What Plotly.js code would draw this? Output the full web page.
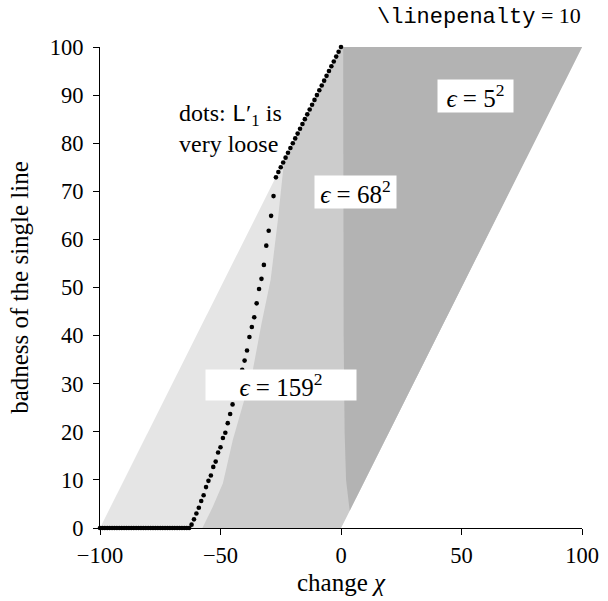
<!DOCTYPE html>
<html>
<head>
<meta charset="utf-8">
<script src="https://cdn.plot.ly/plotly-3.0.1.min.js"></script>
<style>body{margin:0;background:#fff;} #chart{width:608px;height:601px;}</style>
</head>
<body>
<div id="chart"></div>
<script>
// Outer (lightest) region: the whole feasible parallelogram
const lightX = [-100, 0, 100, 0];
const lightY = [0, 100, 100, 0];

const medX = [-57.5, -53.2, -49.0, -44.9, -40.5, -36.6, -33.1, -29.2, -26.2, -24.5, -23.6, 0, 100, 0];
const medY = [0, 4.4, 9.3, 18.3, 26.0, 32.8, 42.2, 51.6, 64.0, 72.0, 76.4, 100, 100, 0];

// Dark region (epsilon = 5^2)
const darkX = [0.9, 1.1, 1.5, 2.1, 3.6, 100];
const darkY = [100, 40, 20, 10, 3.6, 100];

// Dots: L'_1 is very loose
const dotsX = [-100,-99,-98,-97,-96,-95,-94,-93,-92,-91,-90,-89,-88,-87,-86,-85,-84,-83,-82,-81,
  -80,-79,-78,-77,-76,-75,-74,-73,-72,-71,-70,-69,-68,-67,-66,-65,-64,-63,
  -62,-61,-60,-59,-58,-57,-56,-55,-54,-53,-52,-51,-50,-49,-48,-47,-46,-45,-44,-43,-42,-41,
  -40,-39,-38,-37,-36,-35,-34,-33,-32,-31,-30,-29,-28,-27,
  -26,-25,-24,-23,-22,-21,-20,-19,-18,-17,-16,-15,-14,-13,-12,-11,-10,-9,-8,-7,-6,-5,-4,-3,-2,-1,0];
const dotsY = [0,0,0,0,0,0,0,0,0,0,0,0,0,0,0,0,0,0,0,0,
  0,0,0,0,0,0,0,0,0,0,0,0,0,0,0,0,0,0,
  0.7,1.8,3.0,4.2,5.6,6.8,8.5,9.8,10.9,12.7,13.8,15.7,16.8,18.7,19.8,21.8,23.7,25.7,27.6,29.5,31.2,32.9,
  34.8,36.9,39.7,41.8,43.8,46.7,49.7,51.8,54.7,58.7,61.8,64.9,69.0,72.9,
  74,75,76,77,78,79,80,81,82,83,84,85,86,87,88,89,90,91,92,93,94,95,96,97,98,99,100];

const xTicks = [-100, -50, 0, 50, 100];
const yTicks = [0, 10, 20, 30, 40, 50, 60, 70, 80, 90, 100];

const SERIF = 'Liberation Serif, Times New Roman, serif';
const MONO = 'Liberation Mono, DejaVu Sans Mono, monospace';

const traces = [
  {x: lightX, y: lightY, type: 'scatter', mode: 'lines', fill: 'toself', fillcolor: '#e5e5e5', line: {width: 0}, hoverinfo: 'skip'},
  {x: medX, y: medY, type: 'scatter', mode: 'lines', fill: 'toself', fillcolor: '#cccccc', line: {width: 0}, hoverinfo: 'skip'},
  {x: darkX, y: darkY, type: 'scatter', mode: 'lines', fill: 'toself', fillcolor: '#b3b3b3', line: {width: 0}, hoverinfo: 'skip'},
  {x: dotsX, y: dotsY, type: 'scatter', mode: 'markers', marker: {color: '#000', size: 4.6}, cliponaxis: false, hoverinfo: 'skip'}
];

const tickFont = {family: SERIF, size: 22.5, color: '#000'};
const textFont = {family: SERIF, size: 25, color: '#000'};
const noteFont = {family: SERIF, size: 24, color: '#000'};
const layout = {
  width: 608, height: 601,
  margin: {l: 100, r: 26, t: 47, b: 73},
  paper_bgcolor: '#fff', plot_bgcolor: '#fff',
  showlegend: false,
  font: {family: SERIF, size: 22, color: '#000'},
  xaxis: {
    range: [-100, 100], tickvals: xTicks, ticks: 'outside', ticklen: 6, tickwidth: 1, tickcolor: '#000',
    showline: true, linecolor: '#000', linewidth: 1, showgrid: false, zeroline: false,
    tickfont: tickFont, ticklabelstandoff: 1,
    title: {text: 'change <i>χ</i>', font: textFont, standoff: 6}
  },
  yaxis: {
    range: [0, 100], tickvals: yTicks, ticks: 'outside', ticklen: 6, tickwidth: 1, tickcolor: '#000',
    showline: true, linecolor: '#000', linewidth: 1, showgrid: false, zeroline: false,
    tickfont: tickFont, ticklabelstandoff: 5,
    title: {text: 'badness of the single line', font: textFont, standoff: 14}
  },
  annotations: [
    {x: 55.6, y: 89.8, xref: 'x', yref: 'y', text: '<i>ϵ</i> = 5<sup>2</sup>', showarrow: false,
     bgcolor: '#fff', width: 75, height: 32, borderpad: 0, font: textFont, xanchor: 'center', yanchor: 'middle'},
    {x: 6.2, y: 69.8, xref: 'x', yref: 'y', text: '<i>ϵ</i> = 68<sup>2</sup>', showarrow: false,
     bgcolor: '#fff', width: 81, height: 32, borderpad: 0, font: textFont, xanchor: 'center', yanchor: 'middle'},
    {x: -24.7, y: 29.7, xref: 'x', yref: 'y', text: '<i>ϵ</i> = 159<sup>2</sup>', showarrow: false,
     bgcolor: '#fff', width: 150, height: 30, borderpad: 0, font: textFont, xanchor: 'center', yanchor: 'middle'},
    {x: -67.8, y: 85.88, xref: 'x', yref: 'y', text: 'dots: <span style="font-family:' + MONO + '">L</span>′<sub>1</sub> is', showarrow: false,
     font: noteFont, xanchor: 'left', yanchor: 'middle', align: 'left', borderpad: 0},
    {x: -67.8, y: 79.85, xref: 'x', yref: 'y', text: 'very loose', showarrow: false,
     font: noteFont, xanchor: 'left', yanchor: 'middle', align: 'left', borderpad: 0},
    {x: 1.002, y: 1.064, xref: 'paper', yref: 'paper', text: '<span style="font-family:' + MONO + '">\\linepenalty</span> = 10', showarrow: false,
     font: {family: SERIF, size: 22, color: '#000'}, xanchor: 'right', yanchor: 'middle'}
  ]
};

Plotly.newPlot('chart', traces, layout, {staticPlot: true, displayModeBar: false});
</script>
</body>
</html>
